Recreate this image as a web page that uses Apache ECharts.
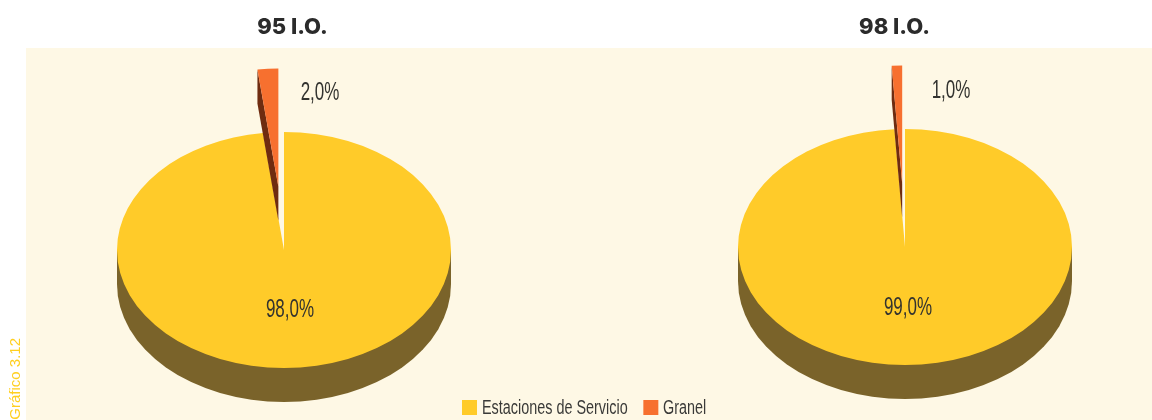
<!DOCTYPE html>
<html><head><meta charset="utf-8">
<style>html,body{margin:0;padding:0;background:#fff}#c{width:1152px;height:420px}</style>
<script src="https://cdn.jsdelivr.net/npm/echarts@6/dist/echarts.min.js"></script>
</head><body><div id="c"></div>
<script>
const pieTitles = ['95 I.O.', '98 I.O.'];
const categories = ['Estaciones de Servicio', 'Granel'];
const estaciones = [98, 99];
const granel = [2, 1];
const figureCaption = 'Gráfico 3.12';

const centers = [[284, 250], [905, 247]];
const labelSpots = [[[290, 310], [320, 93]], [[908, 308], [951, 91]]];
const legendTextX = [482, 663];
const RX = 167, RY = 118, DEPTH = 34, EXPLODE = 90;
const NARROW = '"Liberation Sans",sans-serif';
const fmt = v => v.toFixed(1).replace('.', ',') + '%';

function mainSlice(params, api) {
  const i = api.value(0), v = api.value(1);
  const total = v + granel[i];
  const [cx, cy] = centers[i];
  const start = -Math.PI / 2, end = start + 2 * Math.PI * v / total;
  return { type: 'group', children: [
    { type: 'rect', shape: { x: cx - RX, y: cy, width: 2 * RX, height: DEPTH }, style: { fill: '#7A632A' } },
    { type: 'sector', x: cx, y: cy + DEPTH, scaleY: RY / RX,
      shape: { cx: 0, cy: 0, r0: 0, r: RX, startAngle: 0, endAngle: Math.PI, clockwise: true },
      style: { fill: '#7A632A' } },
    { type: 'sector', x: cx, y: cy, scaleY: RY / RX,
      shape: { cx: 0, cy: 0, r0: 0, r: RX, startAngle: start, endAngle: end, clockwise: true },
      style: { fill: '#FFCB29' } },
    { type: 'text', x: labelSpots[i][0][0], y: labelSpots[i][0][1], scaleX: 0.68, z2: 50,
      style: { text: fmt(v), font: '25px ' + NARROW, fill: '#33332F', align: 'center', verticalAlign: 'middle' } }
  ] };
}

function explodedSlice(params, api) {
  const i = api.value(0), v = api.value(1);
  const total = v + estaciones[i];
  const [cx, cy] = centers[i];
  const start = -Math.PI / 2 + 2 * Math.PI * estaciones[i] / total;
  const end = 3 * Math.PI / 2, mid = (start + end) / 2;
  const ex = cx + EXPLODE * Math.cos(mid);
  const ey = cy + EXPLODE * Math.sin(mid) * RY / RX;
  const rimX = ex + RX * Math.cos(start);
  const rimY = ey + RY * Math.sin(start);
  return { type: 'group', children: [
    { type: 'polygon',
      shape: { points: [[ex, ey], [rimX, rimY], [rimX, rimY + DEPTH], [ex, ey + DEPTH]] },
      style: { fill: '#6F2C10' } },
    { type: 'sector', x: ex, y: ey, scaleY: RY / RX,
      shape: { cx: 0, cy: 0, r0: 0, r: RX, startAngle: start, endAngle: end, clockwise: true },
      style: { fill: '#F7702F' } },
    { type: 'text', x: labelSpots[i][1][0], y: labelSpots[i][1][1], scaleX: 0.68, z2: 50,
      style: { text: fmt(v), font: '25px ' + NARROW, fill: '#33332F', align: 'center', verticalAlign: 'middle' } }
  ] };
}

const chart = echarts.init(document.getElementById('c'), null, { renderer: 'canvas' });
chart.setOption({
  animation: false,
  backgroundColor: '#fff',
  title: pieTitles.map((t, k) => ({
    text: t, left: [292.5, 894.5][k], top: 16, padding: 0, textAlign: 'center',
    textStyle: { fontFamily: 'Inter,sans-serif', fontWeight: 800, fontSize: 22, color: '#2B2B2B' }
  })),
  legend: {
    left: 462, top: 400, itemWidth: 15, itemHeight: 15, itemGap: 158, padding: 0,
    icon: 'rect', data: categories, formatter: () => ' ',
    textStyle: { fontSize: 12 }
  },
  graphic: [
    { type: 'rect', z: -10, shape: { x: 26, y: 48, width: 1126, height: 372 }, style: { fill: '#FEF8E5' } },
    { type: 'text', x: 8, y: 338, rotation: Math.PI / 2, z: 5,
      style: { text: figureCaption, font: '15px "Liberation Sans",sans-serif', fill: '#FFCF20', align: 'right', verticalAlign: 'top' } },
    ...categories.map((c, k) => ({
      type: 'text', x: legendTextX[k], y: 408, scaleX: 0.72, z: 5,
      style: { text: c, font: '20px ' + NARROW, fill: '#3A3A38', align: 'left', verticalAlign: 'middle' }
    }))
  ],
  series: [
    { name: categories[0], type: 'custom', coordinateSystem: 'none', renderItem: mainSlice,
      itemStyle: { color: '#FFCB29' }, data: estaciones.map((v, i) => [i, v]) },
    { name: categories[1], type: 'custom', coordinateSystem: 'none', renderItem: explodedSlice,
      itemStyle: { color: '#F7702F' }, data: granel.map((v, i) => [i, v]) }
  ]
});
</script></body></html>
